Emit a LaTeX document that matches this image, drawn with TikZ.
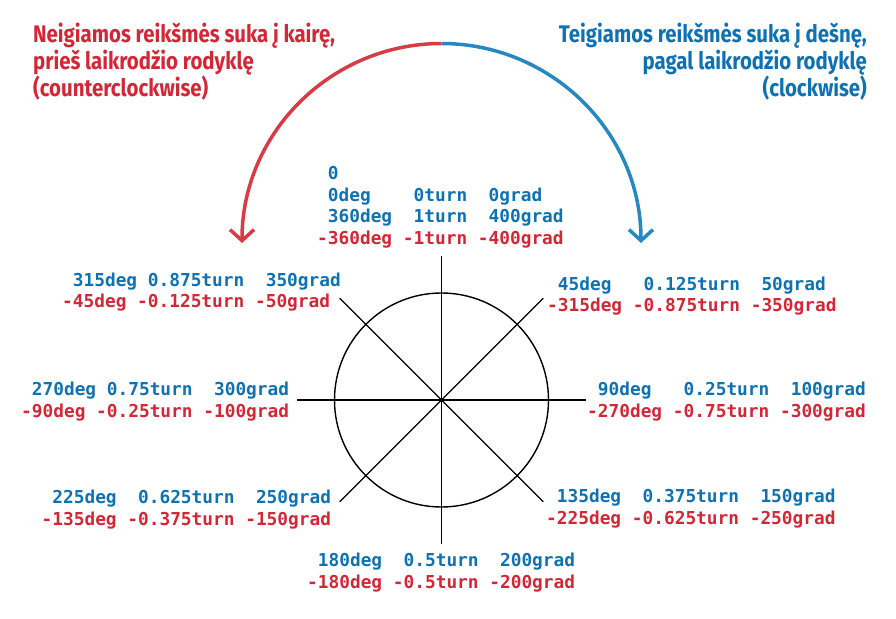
\documentclass[tikz,border=0pt]{standalone}
\usepackage{fontspec}
\setmainfont{Fira Sans}
\setmonofont{DejaVu Sans Mono}
\newfontfamily\headfont{Fira Sans}[FakeStretch=0.85]
\usetikzlibrary{arrows.meta}
\definecolor{negred}{RGB}{211,39,54}
\definecolor{posblue}{RGB}{14,114,178}
\definecolor{arcred}{RGB}{215,60,70}
\definecolor{arcblue}{RGB}{38,136,194}
\newcommand{\gap}[1]{\hspace*{#1\fontcharwd\font`0}}
\tikzset{
  deglabel/.style={font=\fontsize{17.8}{21.5}\selectfont\ttfamily\bfseries,
    align=left, inner sep=0pt, anchor=base west, text=posblue},
  titletext/.style={font=\fontsize{24}{27}\selectfont\headfont\bfseries,
    inner sep=0pt},
  sweep/.style={line width=3.5pt, -{Straight Barb[length=11pt,width=24pt]}}
}
\begin{document}
\begin{tikzpicture}[x=1pt,y=1pt]
\useasboundingbox (-441.5,-218) rectangle (454.5,400);
% dial
\draw[line width=1.4pt] (0,0) circle (107);
\foreach \a in {0,45,...,315}
 \draw[line width=1.1pt] (0,0) -- (\a:144);

% direction arrows
\draw[sweep,arcred] (0,356.5) arc (90:180:199.5);
\draw[sweep,arcblue] (0,356.5) arc (90:0:199.5);

\node[titletext,text=negred,align=left,anchor=base west] (neg) at (-408.5,303)
 {Neigiamos reikšmės suka į kairę,\\prieš laikrodžio rodyklę\\(counterclockwise)};
\node[titletext,text=posblue,align=right,anchor=base east] (pos) at (425.5,303)
 {Teigiamos reikšmės suka į dešnę,\\pagal laikrodžio rodyklę\\(clockwise)};

% values (anchored at the last line)
\node[deglabel] (n) at (-124.5,155.5)
 {\gap{1}0\\\gap{1}0deg\gap{4}0turn\gap{2}0grad\\\gap{1}360deg\gap{2}1turn\gap{2}400grad\\
  \color{negred}-360deg -1turn -400grad};
\node[deglabel] (ne) at (105.5,88)
 {\gap{1}45deg\gap{3}0.125turn\gap{2}50grad\\\color{negred}-315deg -0.875turn -350grad};
\node[deglabel] (e) at (145.5,-17)
 {\gap{1}90deg\gap{3}0.25turn\gap{2}100grad\\\color{negred}-270deg -0.75turn -300grad};
\node[deglabel] (se) at (104.5,-124)
 {\gap{1}135deg\gap{2}0.375turn\gap{2}150grad\\\color{negred}-225deg -0.625turn -250grad};
\node[deglabel] (s) at (-134.5,-188)
 {\gap{1}180deg\gap{2}0.5turn\gap{2}200grad\\\color{negred}-180deg -0.5turn -200grad};
\node[deglabel] (sw) at (-400,-125)
 {\gap{1}225deg\gap{2}0.625turn\gap{2}250grad\\\color{negred}-135deg -0.375turn -150grad};
\node[deglabel] (w) at (-420.5,-17)
 {\gap{1}270deg 0.75turn\gap{2}300grad\\\color{negred}-90deg -0.25turn -100grad};
\node[deglabel] (nw) at (-379.5,92)
 {\gap{1}315deg 0.875turn\gap{2}350grad\\\color{negred}-45deg -0.125turn -50grad};
\end{tikzpicture}
\end{document}
